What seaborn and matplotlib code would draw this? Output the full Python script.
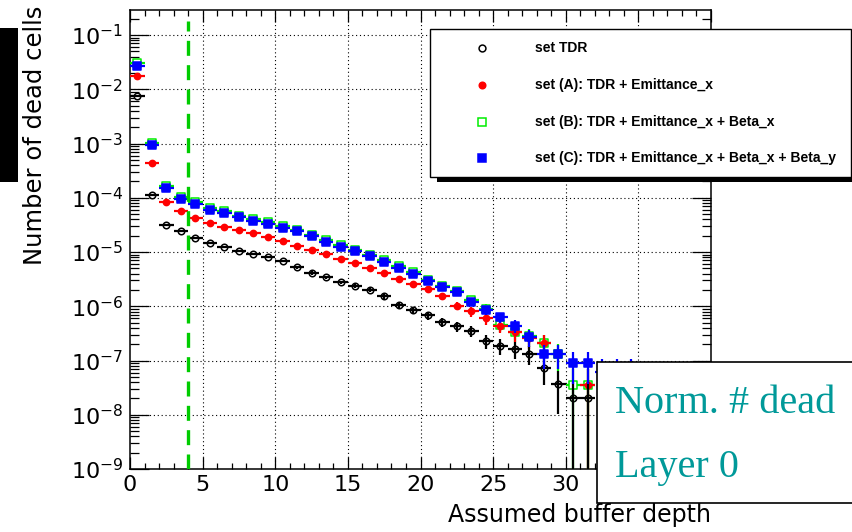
import numpy as np
import pandas as pd
import matplotlib
matplotlib.use("Agg")
import matplotlib.pyplot as plt
import seaborn as sns
from matplotlib.patches import Rectangle
from matplotlib.lines import Line2D
from matplotlib.ticker import LogLocator, MultipleLocator, NullFormatter, FixedLocator, FixedFormatter

nan = np.nan

# Bin centres of the buffer-depth histogram
depth = np.arange(35) + 0.5

# Normalised number of dead cells per buffer depth
set_tdr = [7.4e-3, 1.13e-4, 3.2e-5, 2.4e-5, 1.8e-5, 1.45e-5, 1.22e-5, 1.06e-5, 9.2e-6, 8.0e-6,
           6.9e-6, 5.2e-6, 4.1e-6, 3.4e-6, 2.75e-6, 2.4e-6, 2.0e-6, 1.52e-6, 1.05e-6, 8.5e-7,
           6.8e-7, 5.1e-7, 4.3e-7, 3.57e-7, 2.3e-7, 1.88e-7, 1.6e-7, 1.32e-7, 7.2e-8, 3.7e-8,
           2.0e-8, 2.0e-8, nan, nan, nan]
set_a = [1.74e-2, 4.3e-4, 8.5e-5, 5.8e-5, 4.2e-5, 3.46e-5, 2.88e-5, 2.54e-5, 2.2e-5, 1.87e-5,
         1.6e-5, 1.3e-5, 1.1e-5, 9.2e-6, 7.4e-6, 6.2e-6, 5.07e-6, 4.1e-6, 3.18e-6, 2.6e-6,
         2.08e-6, 1.53e-6, 1.03e-6, 8.1e-7, 6.0e-7, 4.4e-7, 3.3e-7, 2.6e-7, 2.08e-7, nan,
         nan, 3.55e-8, nan, nan, nan]
set_b = [3.0e-2, 1.02e-3, 1.65e-4, 1.05e-4, 8.2e-5, 6.4e-5, 5.6e-5, 4.7e-5, 4.1e-5, 3.55e-5,
         3.0e-5, 2.6e-5, 2.1e-5, 1.68e-5, 1.35e-5, 1.1e-5, 8.9e-6, 7.1e-6, 5.5e-6, 4.3e-6,
         3.1e-6, 2.4e-6, 1.95e-6, 1.28e-6, 9.0e-7, 4.6e-7, 3.3e-7, 2.8e-7, 2.08e-7, 1.32e-7,
         3.55e-8, 3.55e-8, nan, nan, nan]
set_c = [2.7e-2, 9.5e-4, 1.5e-4, 9.5e-5, 7.65e-5, 5.9e-5, 5.16e-5, 4.36e-5, 3.8e-5, 3.3e-5,
         2.77e-5, 2.4e-5, 1.95e-5, 1.55e-5, 1.25e-5, 1.03e-5, 8.3e-6, 6.6e-6, 5.1e-6, 3.94e-6,
         2.9e-6, 2.24e-6, 1.8e-6, 1.2e-6, 8.65e-7, 6.3e-7, 4.4e-7, 2.69e-7, 1.32e-7, 1.32e-7,
         8.9e-8, 8.9e-8, 6.2e-8, 6.2e-8, 6.2e-8]

# Weight of a single dead cell in each normalised histogram (Poisson errors)
count_weight = {"tdr": 1.9e-8, "a": 3.55e-8, "b": 3.55e-8, "c": 3.0e-8}

labels = ["set TDR",
          "set (A): TDR + Emittance_x",
          "set (B): TDR + Emittance_x + Beta_x",
          "set (C): TDR + Emittance_x + Beta_x + Beta_y"]

x_ticks = [0, 5, 10, 15, 20, 25, 30, 35, 40]
x_tick_labels = ["0", "5", "10", "15", "20", "25", "30", "", ""]
buffer_choice = 4

W, H = 852, 532


def fx(px):
    return px / W


def fy(py):
    return 1 - py / H


sns.set_theme(style="ticks")
plt.rcParams["font.family"] = ["DejaVu Sans"]
plt.rcParams["axes.unicode_minus"] = True

fig = plt.figure(figsize=(W / 100, H / 100), dpi=100)
fig.patch.set_facecolor("white")
ax = fig.add_axes([fx(130), fy(469), (711 - 130) / W, (469 - 10) / H])
ax.set_facecolor("white")

ax.set_yscale("log")
ax.set_xlim(0, 40)
ax.set_ylim(1e-9, 0.29)

# Grid on the major ticks
for xv in x_ticks[1:-1]:
    ax.axvline(xv, color="black", lw=0.8, ls=(0, (1, 2.5)), zorder=0.5)
for e in range(-8, 0):
    ax.axhline(10.0 ** e, color="black", lw=0.8, ls=(0, (1, 2.5)), zorder=0.5)

series = [
    # key, values, colour, marker, face, size, legend index, error-bar layer
    ("tdr", set_tdr, "black", "o", "white", 22, 0, 7.5),
    ("b", set_b, "#00ee00", "s", "white", 34, 2, 4),
    ("a", set_a, "#ff0000", "o", "#ff0000", 20, 1, 6),
    ("c", set_c, "#0000ff", "s", "#0000ff", 28, 3, 8),
]

for i, (key, vals, col, mk, face, size, li, ez) in enumerate(series):
    y = np.array(vals, dtype=float)
    df = pd.DataFrame({"depth": depth, "cells": y, "set": labels[li]})
    err = np.sqrt(y * count_weight[key])
    lower = np.where(err >= y, y - 1e-13, err)
    z = 2 + 2 * i
    ax.errorbar(depth, y, xerr=0.5, yerr=[lower, err], fmt="none",
                ecolor=col, elinewidth=1.6, capsize=0, zorder=ez)
    sns.scatterplot(data=df, x="depth", y="cells", ax=ax, marker=mk, s=size,
                    color=face, edgecolor=col, linewidth=1.1, zorder=z + 1,
                    legend=False)

# Chosen buffer depth
ax.vlines(buffer_choice, 1e-9, 0.18, colors="#00cc00", linewidth=2.4,
          linestyles=(0, (4.5, 2.8)), zorder=12)

# Axes and ticks
ax.xaxis.set_major_locator(FixedLocator(x_ticks))
ax.xaxis.set_major_formatter(FixedFormatter(x_tick_labels))
ax.xaxis.set_minor_locator(MultipleLocator(1))
ax.yaxis.set_major_locator(LogLocator(base=10, numticks=20))
ax.yaxis.set_minor_locator(LogLocator(base=10, subs=np.arange(2, 10), numticks=20))
ax.yaxis.set_minor_formatter(NullFormatter())
ax.tick_params(which="both", direction="in", top=True, right=True,
               color="black", width=0.9, labelcolor="black")
ax.tick_params(axis="x", which="major", length=8.6, pad=4, labelsize=16)
ax.tick_params(axis="x", which="minor", length=4.3)
ax.tick_params(axis="y", which="major", length=13.7, pad=5, labelsize=16)
ax.tick_params(axis="y", which="minor", length=6.8)
for sp in ax.spines.values():
    sp.set_color("black")
    sp.set_linewidth(1.1)

ax.set_xlabel("Assumed buffer depth", fontsize=17, loc="right", color="black")
ax.xaxis.set_label_coords(1.0, -0.074)
ax.xaxis.label.set_va("top")
ax.set_ylabel("Number of dead cells", fontsize=17.5, loc="top", color="black")
ax.yaxis.set_label_coords(-0.142, 1.01)

# Legend with drop shadow
fig.add_artist(Rectangle((fx(437), fy(182)), fx(860) - fx(437), fy(36) - fy(182),
                         transform=fig.transFigure, facecolor="black",
                         edgecolor="none", zorder=5))
fig.add_artist(Rectangle((fx(430), fy(177)), fx(851) - fx(430), fy(29) - fy(177),
                         transform=fig.transFigure, facecolor="white",
                         edgecolor="black", linewidth=1.0, zorder=6))
legend_rows = [48.3, 85.0, 121.7, 158.3]
for key, vals, col, mk, face, size, li, ez in series:
    yy = fy(legend_rows[li])
    fig.add_artist(Line2D([fx(482)], [yy], transform=fig.transFigure, marker=mk,
                          markersize=np.sqrt(size) * 1.05, markerfacecolor=face,
                          markeredgecolor=col, markeredgewidth=1.1, linestyle="none",
                          zorder=7))
    fig.text(fx(535), yy, labels[li], fontsize=10, fontweight="bold",
             family=["Liberation Sans", "DejaVu Sans"], color="black",
             ha="left", va="center", zorder=7)

# Caption panel
fig.add_artist(Rectangle((fx(597), fy(503)), fx(870) - fx(597), fy(362) - fy(503),
                         transform=fig.transFigure, facecolor="white",
                         edgecolor="black", linewidth=1.2, zorder=8))
fig.text(fx(615), fy(413), "Norm. # dead", fontsize=29, color="#009999",
         family=["Liberation Serif", "DejaVu Serif"], ha="left", va="baseline", zorder=9)
fig.text(fx(615), fy(477), "Layer 0", fontsize=29, color="#009999",
         family=["Liberation Serif", "DejaVu Serif"], ha="left", va="baseline", zorder=9)

# Side bar
fig.add_artist(Rectangle((0, fy(182)), fx(18), fy(28) - fy(182),
                         transform=fig.transFigure, facecolor="black",
                         edgecolor="none", zorder=5))

fig.savefig("out.png", dpi=100, facecolor="white")
